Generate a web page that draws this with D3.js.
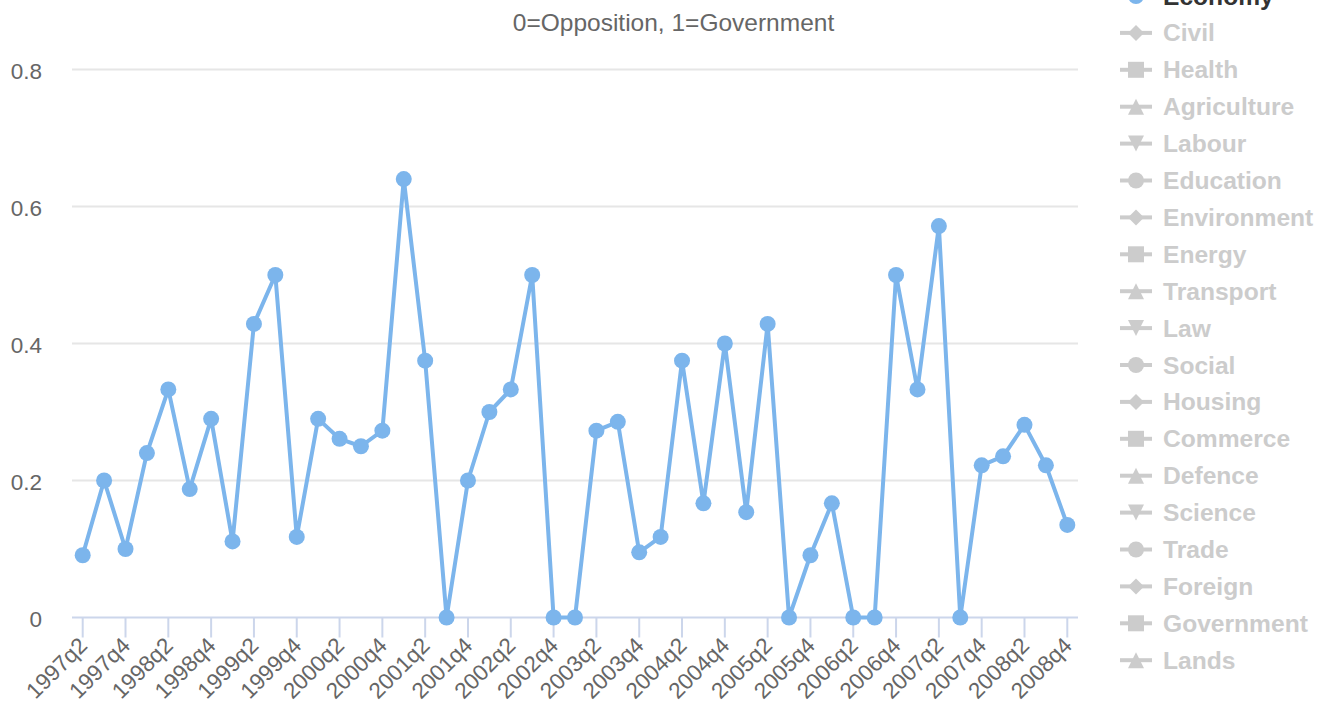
<!DOCTYPE html>
<html>
<head>
<meta charset="utf-8">
<script src="https://cdnjs.cloudflare.com/ajax/libs/d3/7.8.5/d3.min.js"></script>
<style>
  html, body { margin: 0; padding: 0; background: #ffffff; overflow: hidden; }
  svg { display: block; font-family: "Liberation Sans", Arial, Helvetica, sans-serif; }
</style>
</head>
<body>
<svg id="chart" width="1325" height="705"></svg>
<script>
// ---------- data ----------
const categories = [
  "1997q2","1997q3","1997q4",
  "1998q1","1998q2","1998q3","1998q4",
  "1999q1","1999q2","1999q3","1999q4",
  "2000q1","2000q2","2000q3","2000q4",
  "2001q1","2001q2","2001q3","2001q4",
  "2002q1","2002q2","2002q3","2002q4",
  "2003q1","2003q2","2003q3","2003q4",
  "2004q1","2004q2","2004q3","2004q4",
  "2005q1","2005q2","2005q3","2005q4",
  "2006q1","2006q2","2006q3","2006q4",
  "2007q1","2007q2","2007q3","2007q4",
  "2008q1","2008q2","2008q3","2008q4"
];
const economyValues = [
  0.0909, 0.2, 0.1,
  0.24, 0.333, 0.1875, 0.29,
  0.111, 0.4286, 0.5, 0.1176,
  0.29, 0.2609, 0.25, 0.2727,
  0.64, 0.375, 0, 0.2,
  0.3, 0.333, 0.5, 0,
  0, 0.2727, 0.2857, 0.0952,
  0.1176, 0.375, 0.1667, 0.4,
  0.1538, 0.4286, 0, 0.0909,
  0.1667, 0, 0, 0.5,
  0.333, 0.5714, 0, 0.2222,
  0.2353, 0.2813, 0.2222, 0.1351
];
const yTicks = [0, 0.2, 0.4, 0.6, 0.8];
const subtitleText = "0=Opposition, 1=Government";
const legendNames = ["Economy","Civil","Health","Agriculture","Labour","Education","Environment",
  "Energy","Transport","Law","Social","Housing","Commerce","Defence","Science","Trade",
  "Foreign","Government","Lands"];
const legendSymbols = ["circle","diamond","square","triangle","triangle-down"];

// ---------- layout ----------
const svg = d3.select("#chart");
const plot = { left: 72, right: 1078, top: 69.5, bottom: 617.5 };
const lineColor = "#7cb5ec";

const x = d3.scaleBand().domain(categories).range([plot.left, plot.right]).padding(0);
const xc = c => x(c) + x.bandwidth() / 2;
const y = d3.scaleLinear().domain([0, 0.8]).range([plot.bottom, plot.top]);

// subtitle
svg.append("text")
  .attr("x", 673.5).attr("y", 31)
  .attr("text-anchor", "middle")
  .attr("fill", "#666666")
  .attr("font-size", 24.5)
  .text(subtitleText);

// gridlines
svg.append("g").selectAll("line")
  .data(yTicks.filter(v => v > 0))
  .join("line")
  .attr("x1", plot.left).attr("x2", plot.right)
  .attr("y1", d => y(d)).attr("y2", d => y(d))
  .attr("stroke", "#e6e6e6").attr("stroke-width", 2);

// y axis labels
const yAxis = d3.axisLeft(y).tickValues(yTicks).tickSize(0).tickPadding(0)
  .tickFormat(d => d === 0 ? "0" : d3.format(".1f")(d));
const gy = svg.append("g").attr("transform", `translate(42,0)`).call(yAxis);
gy.select(".domain").remove();
gy.selectAll("text")
  .attr("fill", "#666666").attr("font-size", 22.5)
  .attr("font-family", "\"Liberation Sans\", Arial, sans-serif")
  .attr("dy", null)
  .attr("dominant-baseline", "central")
  .attr("y", 1.5);

// x axis line + ticks
const tickCats = categories.filter((c, i) => i % 2 === 0);
const xAxis = d3.axisBottom(x).tickValues(tickCats).tickSize(20).tickFormat("");
const gx = svg.append("g").attr("transform", `translate(0,${plot.bottom})`).call(xAxis);
gx.select(".domain").attr("d", `M${plot.left},0H${plot.right}`)
  .attr("stroke", "#ccd6eb").attr("stroke-width", 2);
gx.selectAll(".tick line").attr("stroke", "#ccd6eb").attr("stroke-width", 2);
gx.selectAll(".tick text").remove();

// x labels rotated
svg.append("g").selectAll("text")
  .data(tickCats)
  .join("text")
  .attr("transform", d => `translate(${xc(d) + 6},${647}) rotate(-45)`)
  .attr("text-anchor", "end")
  .attr("fill", "#666666")
  .attr("font-size", 22.5)
  .text(d => d);

// series line
const line = d3.line().x((d, i) => xc(categories[i])).y(d => y(d));
svg.append("path")
  .datum(economyValues)
  .attr("d", line)
  .attr("fill", "none")
  .attr("stroke", lineColor)
  .attr("stroke-width", 4)
  .attr("stroke-linejoin", "round")
  .attr("stroke-linecap", "round");

svg.append("g").selectAll("circle")
  .data(economyValues)
  .join("circle")
  .attr("cx", (d, i) => xc(categories[i]))
  .attr("cy", d => y(d))
  .attr("r", 8)
  .attr("fill", lineColor);

// legend
const legendTop = -4;
const legendStep = 36.9;
const symX = 1136;
const symbolPath = (type, r) => {
  switch (type) {
    case "circle": return d3.symbol().type(d3.symbolCircle).size(Math.PI * r * r)();
    case "square": return `M${-r},${-r}H${r}V${r}H${-r}Z`;
    case "diamond": return `M0,${-r}L${r},0L0,${r}L${-r},0Z`;
    case "triangle": return `M0,${-r}L${r},${r}L${-r},${r}Z`;
    case "triangle-down": return `M${-r},${-r}L${r},${-r}L0,${r}Z`;
  }
};
const legend = svg.append("g");
const items = legend.selectAll("g")
  .data(legendNames)
  .join("g")
  .attr("transform", (d, i) => `translate(0,${legendTop + i * legendStep})`);
items.append("line")
  .attr("x1", symX - 16).attr("x2", symX + 16)
  .attr("y1", 0).attr("y2", 0)
  .attr("stroke", (d, i) => i === 0 ? lineColor : "#cccccc")
  .attr("stroke-width", 4);
items.append("path")
  .attr("transform", `translate(${symX},0)`)
  .attr("d", (d, i) => symbolPath(legendSymbols[i % legendSymbols.length], 8))
  .attr("fill", (d, i) => i === 0 ? lineColor : "#cccccc");
items.append("text")
  .attr("x", 1163).attr("y", 8.5)
  .attr("font-size", 24.6)
  .attr("font-weight", "bold")
  .attr("fill", (d, i) => i === 0 ? "#333333" : "#cccccc")
  .text(d => d);
</script>
</body>
</html>
